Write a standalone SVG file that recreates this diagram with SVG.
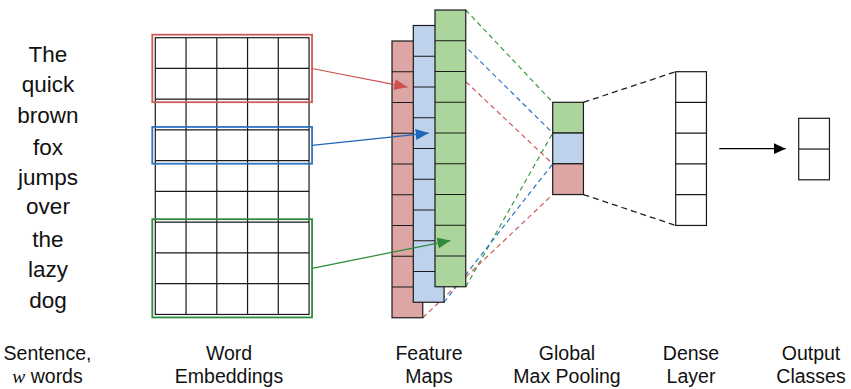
<svg xmlns="http://www.w3.org/2000/svg" width="851" height="389" viewBox="0 0 851 389">
<style>
text{font-family:"Liberation Sans",Arial,sans-serif;fill:#111;text-anchor:middle}
.w{font-size:22.5px}
.lb{font-size:19.5px}
.cell{stroke:#1a1a1a;stroke-width:1.2;fill:none}
.rf{fill:#dea5a5}.bf{fill:#bed2ec}.gf{fill:#acd59d}
.dr{stroke:#d05a58;stroke-width:1.2;stroke-dasharray:5 3.5;fill:none}
.db{stroke:#2f74c4;stroke-width:1.2;stroke-dasharray:5 3.5;fill:none}
.dg{stroke:#3a9a44;stroke-width:1.2;stroke-dasharray:5 3.5;fill:none}
.dk{stroke:#222;stroke-width:1.3;stroke-dasharray:6 4;fill:none}
</style>
<defs>
<marker id="ar" markerUnits="userSpaceOnUse" markerWidth="14" markerHeight="12" refX="13" refY="5.5" orient="auto"><path d="M0,0 L13,5.5 L0,11 Z" fill="#cc524f"/></marker>
<marker id="ab" markerUnits="userSpaceOnUse" markerWidth="14" markerHeight="12" refX="13" refY="5.5" orient="auto"><path d="M0,0 L13,5.5 L0,11 Z" fill="#1f66b5"/></marker>
<marker id="ag" markerUnits="userSpaceOnUse" markerWidth="14" markerHeight="12" refX="13" refY="5.5" orient="auto"><path d="M0,0 L13,5.5 L0,11 Z" fill="#2d8a3a"/></marker>
<marker id="ak" markerUnits="userSpaceOnUse" markerWidth="13" markerHeight="12" refX="12" refY="5.5" orient="auto"><path d="M0,0 L12,5.5 L0,11 Z" fill="#000"/></marker>
</defs>

<g id="sentence">
<text class="w" x="48" y="62">The</text>
<text class="w" x="48" y="91.5">quick</text>
<text class="w" x="48" y="123">brown</text>
<text class="w" x="48" y="155">fox</text>
<text class="w" x="48" y="185">jumps</text>
<text class="w" x="48" y="213.5">over</text>
<text class="w" x="48" y="246.5">the</text>
<text class="w" x="48" y="277">lazy</text>
<text class="w" x="48" y="308">dog</text>
</g>

<g id="pool-connectors">
<line class="dg" x1="465.75" y1="10" x2="552.7" y2="102.3"/>
<line class="dg" x1="465.75" y1="286.75" x2="552.7" y2="133.05"/>
<line class="db" x1="444.05" y1="25.5" x2="552.7" y2="133.05"/>
<line class="db" x1="444.05" y1="302.25" x2="552.7" y2="163.8"/>
<line class="dr" x1="422.75" y1="41" x2="552.7" y2="163.8"/>
<line class="dr" x1="422.75" y1="317.75" x2="552.7" y2="194.55"/>
<line class="dk" x1="583.45" y1="102.3" x2="675.7" y2="71.7"/>
<line class="dk" x1="583.45" y1="194.55" x2="675.7" y2="225.45"/>
</g>

<g id="embeddings">
<rect x="155.3" y="37.7" width="153.75" height="276.75" fill="#fff" class="cell"/>
<path class="cell" d="M186.05,37.7V314.45M216.8,37.7V314.45M247.55,37.7V314.45M278.3,37.7V314.45
M155.3,68.45H309.05M155.3,99.2H309.05M155.3,129.95H309.05M155.3,160.7H309.05M155.3,191.45H309.05M155.3,222.2H309.05M155.3,252.95H309.05M155.3,283.7H309.05"/>
<rect x="152.3" y="34.7" width="159.75" height="67.5" fill="none" stroke="#d05a58" stroke-width="1.8"/>
<rect x="152.3" y="126.95" width="159.75" height="36.75" fill="none" stroke="#2f74c4" stroke-width="1.8"/>
<rect x="152.3" y="219.2" width="159.75" height="98.25" fill="none" stroke="#2e8c3e" stroke-width="1.8"/>
</g>

<g id="feature-map-red">
<rect x="392" y="41" width="30.75" height="276.75" class="cell rf"/>
<path class="cell" d="M392,71.75h30.75M392,102.5h30.75M392,133.25h30.75M392,164h30.75M392,194.75h30.75M392,225.5h30.75M392,256.25h30.75M392,287h30.75"/>
</g>
<g id="feature-map-blue">
<rect x="413.3" y="25.5" width="30.75" height="276.75" class="cell bf"/>
<path class="cell" d="M413.3,56.25h30.75M413.3,87h30.75M413.3,117.75h30.75M413.3,148.5h30.75M413.3,179.25h30.75M413.3,210h30.75M413.3,240.75h30.75M413.3,271.5h30.75"/>
</g>
<g id="feature-map-green">
<rect x="435" y="10" width="30.75" height="276.75" class="cell gf"/>
<path class="cell" d="M435,40.75h30.75M435,71.5h30.75M435,102.25h30.75M435,133h30.75M435,163.75h30.75M435,194.5h30.75M435,225.25h30.75M435,256h30.75"/>
</g>

<g id="global-max-pooling">
<rect x="552.7" y="102.3" width="30.75" height="30.75" class="cell gf"/>
<rect x="552.7" y="133.05" width="30.75" height="30.75" class="cell bf"/>
<rect x="552.7" y="163.8" width="30.75" height="30.75" class="cell rf"/>
</g>

<g id="dense-layer">
<rect x="675.7" y="71.7" width="30.75" height="153.75" fill="#fff" class="cell"/>
<path class="cell" d="M675.7,102.45h30.75M675.7,133.2h30.75M675.7,163.95h30.75M675.7,194.7h30.75"/>
</g>

<g id="output-classes">
<rect x="798.7" y="118.3" width="30.75" height="61.5" fill="#fff" class="cell"/>
<path class="cell" d="M798.7,149.05h30.75"/>
</g>

<g id="connectors">
<line x1="312" y1="68.5" x2="407.4" y2="87.1" stroke="#cc524f" stroke-width="1.2" marker-end="url(#ar)"/>
<line x1="312" y1="145.3" x2="428.7" y2="133.1" stroke="#1f66b5" stroke-width="1.2" marker-end="url(#ab)"/>
<line x1="312" y1="268.3" x2="450.4" y2="240.6" stroke="#2d8a3a" stroke-width="1.2" marker-end="url(#ag)"/>
<line x1="719.3" y1="148.7" x2="785.7" y2="148.7" stroke="#000" stroke-width="1.2" marker-end="url(#ak)"/>
</g>

<g id="labels">
<text class="lb" x="47.5" y="360">Sentence,</text>
<text class="lb" x="47.5" y="382.5"><tspan font-family="'Liberation Serif',serif" font-style="italic">w</tspan> words</text>
<text class="lb" x="229" y="360">Word</text>
<text class="lb" x="229" y="382.5">Embeddings</text>
<text class="lb" x="429" y="360">Feature</text>
<text class="lb" x="429" y="382.5">Maps</text>
<text class="lb" x="567" y="360">Global</text>
<text class="lb" x="567" y="382.5">Max Pooling</text>
<text class="lb" x="691" y="360">Dense</text>
<text class="lb" x="691" y="382.5">Layer</text>
<text class="lb" x="811" y="360">Output</text>
<text class="lb" x="811" y="382.5">Classes</text>
</g>
</svg>
